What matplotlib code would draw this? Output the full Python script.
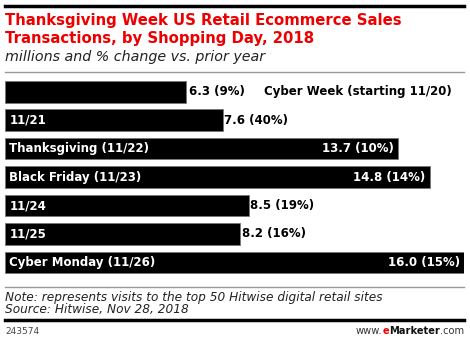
import matplotlib.pyplot as plt

# data
days = ["Cyber Week (starting 11/20)", "11/21", "Thanksgiving (11/22)",
        "Black Friday (11/23)", "11/24", "11/25", "Cyber Monday (11/26)"]
transactions = [6.3, 7.6, 13.7, 14.8, 8.5, 8.2, 16.0]
pct_change = [9, 40, 10, 14, 19, 16, 15]

W, H = 470, 342
fig = plt.figure(figsize=(W / 100, H / 100), dpi=100)
plt.rcParams['font.family'] = ['DejaVu Sans']


def fx(px):
    return px / W


def fy(py):
    return 1 - py / H


# header
fig.add_artist(plt.Line2D([fx(5), fx(464)], [fy(6), fy(6)], color='black', lw=2.5))
fig.text(fx(5), fy(20), "Thanksgiving Week US Retail Ecommerce Sales", color='#ee0000',
         fontsize=10.75, fontweight='bold', va='center', ha='left')
fig.text(fx(5), fy(38), "Transactions, by Shopping Day, 2018", color='#ee0000',
         fontsize=10.75, fontweight='bold', va='center', ha='left')
fig.text(fx(5), fy(57), "millions and % change vs. prior year", color='#222222',
         fontsize=10.3, style='italic', va='center', ha='left')
fig.add_artist(plt.Line2D([fx(5), fx(464)], [fy(72), fy(72)], color='#999999', lw=1))

# bars
ax = fig.add_axes([fx(5), 1 - 276.6 / H, 459 / W, 199 / H])
ypos = list(range(len(days)))
ax.barh(ypos, transactions, height=0.76, color='black', edgecolor='#777777', linewidth=0.6)
ax.set_xlim(0, 16)
ax.set_ylim(6.5, -0.5)
ax.axis('off')

fs = 8.5
for i, (d, v, p) in enumerate(zip(days, transactions, pct_change)):
    lab = "%.1f (%d%%)" % (v, p)
    if i == 0:
        ax.text(v + 0.1, i, lab, color='black', fontsize=fs, fontweight='bold',
                va='center', ha='left')
        ax.text(15.58, i, d, color='black', fontsize=fs, fontweight='bold',
                va='center', ha='right')
        continue
    ax.text(0.15, i, d, color='white', fontsize=fs, fontweight='bold',
            va='center', ha='left')
    if v > 12:
        ax.text(v - 0.15, i, lab, color='white', fontsize=fs, fontweight='bold',
                va='center', ha='right')
    else:
        ax.text(v + 0.05, i, lab, color='black', fontsize=fs, fontweight='bold',
                va='center', ha='left')

# footer
fig.add_artist(plt.Line2D([fx(5), fx(464)], [fy(287), fy(287)], color='#999999', lw=1))
fig.text(fx(5), fy(298), "Note: represents visits to the top 50 Hitwise digital retail sites",
         color='#222222', fontsize=8.7, style='italic', va='center', ha='left')
fig.text(fx(5), fy(310), "Source: Hitwise, Nov 28, 2018",
         color='#222222', fontsize=8.7, style='italic', va='center', ha='left')
fig.add_artist(plt.Line2D([fx(5), fx(464)], [fy(320), fy(320)], color='black', lw=2.5))
fig.text(fx(5), fy(331), "243574", color='#444444', fontsize=6.5, va='center', ha='left')

t = fig.text(fx(464), fy(331), ".com", color='#333333', fontsize=7.1, va='center', ha='right')
r = fig.canvas.get_renderer()
x = t.get_window_extent(r).x0
t2 = fig.text(x, fy(331) * H, "Marketer", color='#111111', fontsize=7.1, fontweight='bold',
              va='center', ha='right', transform=None)
x = t2.get_window_extent(r).x0
t3 = fig.text(x, fy(331) * H, "e", color='#ee0000', fontsize=7.1, fontweight='bold',
              va='center', ha='right', transform=None)
x = t3.get_window_extent(r).x0
fig.text(x, fy(331) * H, "www.", color='#333333', fontsize=7.1,
         va='center', ha='right', transform=None)

fig.savefig("out.png", dpi=100)
